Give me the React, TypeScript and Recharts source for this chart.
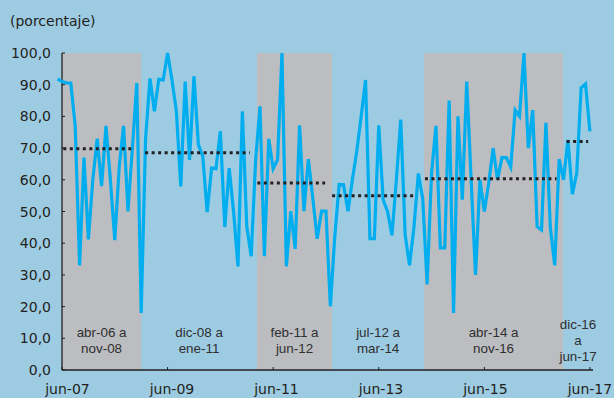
import React from 'react';
import { ComposedChart, Line, XAxis, YAxis, ReferenceArea, ReferenceLine } from 'recharts';

// monthly series, may-07 .. jun-17 (t = -1 .. 120, jun-07 = 0)
const values = [
  91.8, 91.0, 90.6, 90.5, 77, 33, 67, 41.2, 60, 73, 58, 77, 60, 41, 64, 77, 50, 70, 90.5, 18,
  73, 92, 81.6, 91.7, 91.5, 100, 91.5, 81.6, 57.9, 91, 66.3, 92.6, 71.1, 67.4, 49.8, 63.7, 63.5, 75.3, 45.1, 63.7,
  50, 32.7, 81.6, 45.2, 35.9, 65.8, 83.2, 35.9, 72.9, 63.5, 66.3, 100, 32.7, 50.1, 38.2, 77.2, 50.1, 66.5, 54.3, 41.4,
  50.1, 50.1, 20.1, 42, 58.5, 58.4, 50.1, 60, 69, 80, 91.5, 41.4, 41.4, 77.2, 53.7, 50, 42.5, 60, 79, 42.7,
  33, 45, 62, 54, 27, 62, 77, 38.5, 38.5, 85, 18, 80, 53.7, 91, 60, 30, 60, 50, 59, 70,
  60, 67, 67, 64, 82, 80, 100, 70, 82, 45.2, 44.2, 78, 45, 33, 66.5, 60, 72.6, 55.5, 62, 89,
  90.2, 75.3,
];
const firstMonth = -1;

const xTicks = [0, 24, 48, 72, 96, 120];
const xTickLabels = ['jun-07', 'jun-09', 'jun-11', 'jun-13', 'jun-15', 'jun-17'];
const yTicks = [0, 10, 20, 30, 40, 50, 60, 70, 80, 90, 100];

// regimes
const regimeLabels = [
  ['abr-06 a', 'nov-08'],
  ['dic-08 a', 'ene-11'],
  ['feb-11 a', 'jun-12'],
  ['jul-12 a', 'mar-14'],
  ['abr-14 a', 'nov-16'],
  ['dic-16', 'a', 'jun-17'],
];
const regimeStart = [0, 18, 44.3, 61.4, 82.3, 113.9];
const regimeEnd = [18, 44.3, 61.4, 82.3, 113.9, 120.7];
const regimeShaded = [true, false, true, false, true, false];
const meanValues = [69.8, 68.5, 59.0, 55.0, 60.3, 72.1];
const meanStart = [0.3, 18.9, 44.4, 61.4, 82.5, 114.7];
const meanEnd = [16.2, 42.7, 59.8, 80.6, 112.4, 119.6];

const data = values.map((v, i) => ({ t: firstMonth + i, v }));

const AXIS_X = 62;
const AXIS_Y = 370;
const tickFont = '"DejaVu Sans", sans-serif';
const labelFont = '"Liberation Sans", Arial, sans-serif';
const ink = '#231f20';

const YTick = ({ y, payload }: any) => (
  <g>
    <line x1={AXIS_X} x2={AXIS_X + 3} y1={y} y2={y} stroke={ink} strokeWidth={1} />
    <text x={51} y={y + 5} textAnchor="end" fontFamily={tickFont} fontSize={14} fill={ink}>
      {payload.value.toFixed(1).replace('.', ',')}
    </text>
  </g>
);

const XTick = ({ x, payload }: any) => {
  const idx = xTicks.indexOf(payload.value);
  // labels sit slightly right of their tick marks in the original
  const dx = 5.5 * (1 - payload.value / 120);
  return (
    <g>
      <line x1={x} x2={x} y1={AXIS_Y} y2={AXIS_Y - 3} stroke={ink} strokeWidth={1} />
      <text x={x + dx} y={394} textAnchor="middle" fontFamily={tickFont} fontSize={14} fill={ink}>
        {xTickLabels[idx]}
      </text>
    </g>
  );
};

const RegionLabel = ({ viewBox, lines }: any) => {
  const cx = viewBox.x + viewBox.width / 2;
  const mid = viewBox.y + viewBox.height - 30;
  return (
    <text textAnchor="middle" fontFamily={labelFont} fontSize={13.4} fill="#2f2f2f">
      {lines.map((s: string, i: number) => (
        <tspan key={i} x={cx} y={mid + 5 + (i - (lines.length - 1) / 2) * 16}>
          {s}
        </tspan>
      ))}
    </text>
  );
};

export default function App() {
  return (
    <div style={{ position: 'absolute', left: 0, top: 0, width: 614, height: 398, background: '#9dcbe2', overflow: 'hidden' }}>
      <div style={{ position: 'absolute', left: 10, top: 14, fontFamily: tickFont, fontSize: 14, lineHeight: '14px', color: ink }}>
        (porcentaje)
      </div>
      <ComposedChart width={614} height={398} data={data} margin={{ top: 53, right: 21, bottom: 0, left: 0 }}>
        {regimeLabels.map((lines, i) => (
          <ReferenceArea
            key={'a' + i}
            x1={regimeStart[i]}
            x2={regimeEnd[i]}
            y1={0}
            y2={100}
            fill={regimeShaded[i] ? '#bcbdc0' : 'none'}
            fillOpacity={regimeShaded[i] ? 1 : 0}
            stroke="none"
            label={(p: any) => <RegionLabel viewBox={p.viewBox} lines={lines} />}
          />
        ))}
        <XAxis
          type="number"
          dataKey="t"
          domain={[-1, 120.7]}
          ticks={xTicks}
          axisLine={false}
          tickLine={false}
          height={28}
          tick={(p: any) => <XTick {...p} />}
          interval={0}
        />
        <YAxis
          type="number"
          domain={[0, 100]}
          ticks={yTicks}
          axisLine={false}
          tickLine={false}
          width={57.6}
          tick={(p: any) => <YTick {...p} />}
          interval={0}
        />
        <ReferenceLine x={0} stroke={ink} strokeWidth={1.3} />
        <ReferenceLine segment={[{ x: 0, y: 0 }, { x: 120.7, y: 0 }]} stroke={ink} strokeWidth={1.3} />
        <Line
          type="linear"
          dataKey="v"
          stroke="#00aeef"
          strokeWidth={3.2}
          dot={false}
          activeDot={false}
          isAnimationActive={false}
        />
        {meanValues.map((m, i) => (
          <ReferenceLine
            key={'m' + i}
            segment={[{ x: meanStart[i], y: m }, { x: meanEnd[i], y: m }]}
            stroke={ink}
            strokeWidth={3}
            strokeDasharray="3 3.5"
          />
        ))}
      </ComposedChart>
    </div>
  );
}
